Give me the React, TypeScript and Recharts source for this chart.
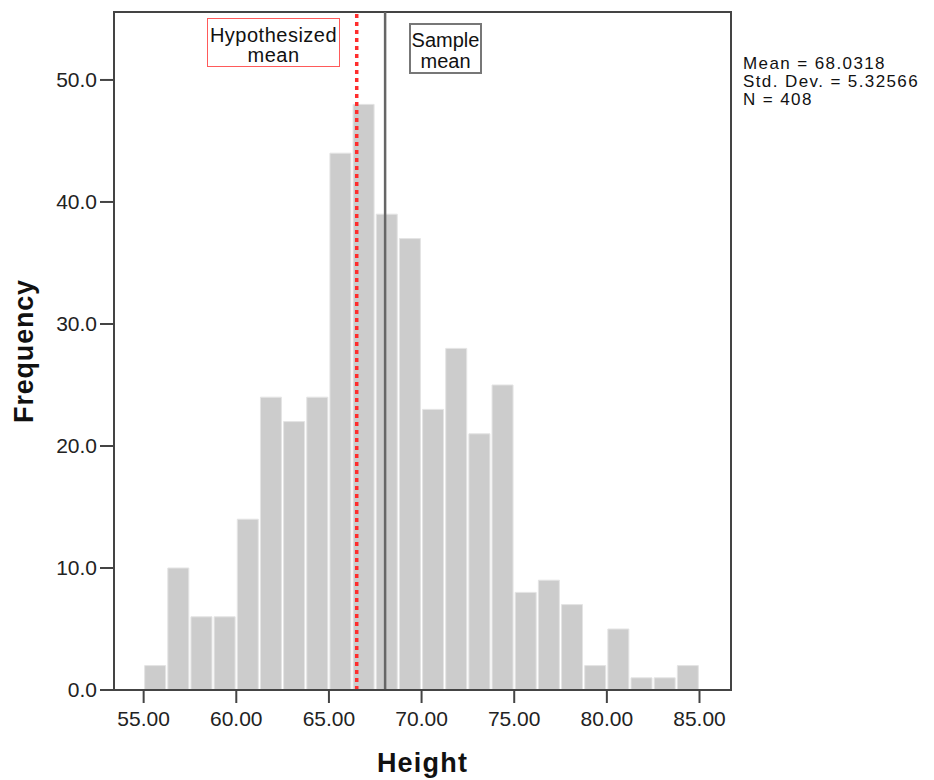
import {
  Bar,
  ComposedChart,
  ReferenceArea,
  ReferenceLine,
  XAxis,
  YAxis,
} from "recharts";

// histogram bins (bin centres, width 1.25)
const binCenters = [
  55.625, 56.875, 58.125, 59.375, 60.625, 61.875, 63.125, 64.375, 65.625,
  66.875, 68.125, 69.375, 70.625, 71.875, 73.125, 74.375, 75.625, 76.875,
  78.125, 79.375, 80.625, 81.875, 83.125, 84.375,
];
const frequencies = [
  2, 10, 6, 6, 14, 24, 22, 24, 44, 48, 39, 37, 23, 28, 21, 25, 8, 9, 7, 2, 5,
  1, 1, 2,
];

const xTicks = [55, 60, 65, 70, 75, 80, 85];
const yTicks = [0, 10, 20, 30, 40, 50];
const xDomain: [number, number] = [53.4, 86.7];
const yDomain: [number, number] = [0, 55.57];

const hypothesizedMean = 66.5;
const sampleMean = 68.0318;
const statLines = ["Mean = 68.0318", "Std. Dev. = 5.32566", "N = 408"];

const data = binCenters.map((height, i) => ({ height, count: frequencies[i] }));

const FONT = "'Liberation Sans', Arial, sans-serif";
const axisColor = "#444";

export default function App() {
  return (
    <div
      style={{
        position: "absolute",
        left: 0,
        top: 0,
        width: 934,
        height: 780,
        background: "#fff",
        fontFamily: FONT,
      }}
    >
      <ComposedChart
        width={934}
        height={780}
        data={data}
        margin={{ top: 12, right: 203, bottom: 0, left: 0 }}
      >
        <ReferenceArea
          x1={xDomain[0]}
          x2={xDomain[1]}
          y1={yDomain[0]}
          y2={yDomain[1]}
          fill="none"
          stroke={axisColor}
          strokeWidth={2}
        />
        <XAxis
          type="number"
          dataKey="height"
          domain={xDomain}
          ticks={xTicks}
          allowDataOverflow
          height={90}
          tickSize={13}
          tickMargin={8}
          tickFormatter={(v: number) => v.toFixed(2)}
          tick={{ fill: "#222", fontSize: 21, fontFamily: FONT }}
          axisLine={{ stroke: axisColor, strokeWidth: 2 }}
          tickLine={{ stroke: axisColor, strokeWidth: 2 }}
          label={{
            value: "Height",
            position: "insideBottom",
            offset: 8,
            style: {
              fontSize: 27,
              fontWeight: 700,
              fill: "#111",
              fontFamily: FONT,
              letterSpacing: 1.2,
            },
          }}
        />
        <YAxis
          type="number"
          domain={yDomain}
          ticks={yTicks}
          allowDataOverflow
          width={114}
          tickSize={14}
          tickMargin={3}
          tickFormatter={(v: number) => v.toFixed(1)}
          tick={{ fill: "#222", fontSize: 21, fontFamily: FONT }}
          axisLine={{ stroke: axisColor, strokeWidth: 2 }}
          tickLine={{ stroke: axisColor, strokeWidth: 2 }}
          label={{
            value: "Frequency",
            angle: -90,
            position: "center",
            dx: -34,
            style: {
              fontSize: 27,
              fontWeight: 700,
              fill: "#111",
              fontFamily: FONT,
              letterSpacing: 0.8,
            },
          }}
        />
        <Bar
          dataKey="count"
          barSize={21}
          fill="#cccccc"
          stroke="#e4e4e4"
          strokeWidth={1}
          isAnimationActive={false}
        />
        <ReferenceLine
          x={hypothesizedMean}
          stroke="#ff2d2d"
          strokeWidth={3.5}
          strokeDasharray="4 4"
        />
        <ReferenceLine x={sampleMean} stroke="#666" strokeWidth={2.5} />
      </ComposedChart>

      <div
        style={{
          position: "absolute",
          left: 207,
          top: 18,
          width: 133,
          height: 49,
          boxSizing: "border-box",
          border: "1.5px solid #ff5a5a",
          paddingTop: 6,
          textAlign: "center",
          fontSize: 20,
          lineHeight: "20px",
          letterSpacing: 0.5,
          color: "#111",
        }}
      >
        Hypothesized
        <br />
        mean
      </div>
      <div
        style={{
          position: "absolute",
          left: 409,
          top: 23,
          width: 73,
          height: 51,
          boxSizing: "border-box",
          border: "2px solid #777",
          paddingTop: 5,
          textAlign: "center",
          fontSize: 20,
          lineHeight: "21px",
          color: "#111",
        }}
      >
        Sample
        <br />
        mean
      </div>
      <div
        style={{
          position: "absolute",
          left: 743,
          top: 55,
          fontSize: 17,
          lineHeight: "18px",
          letterSpacing: 1.4,
          color: "#111",
          whiteSpace: "nowrap",
        }}
      >
        {statLines.map((s) => (
          <div key={s}>{s}</div>
        ))}
      </div>
    </div>
  );
}
